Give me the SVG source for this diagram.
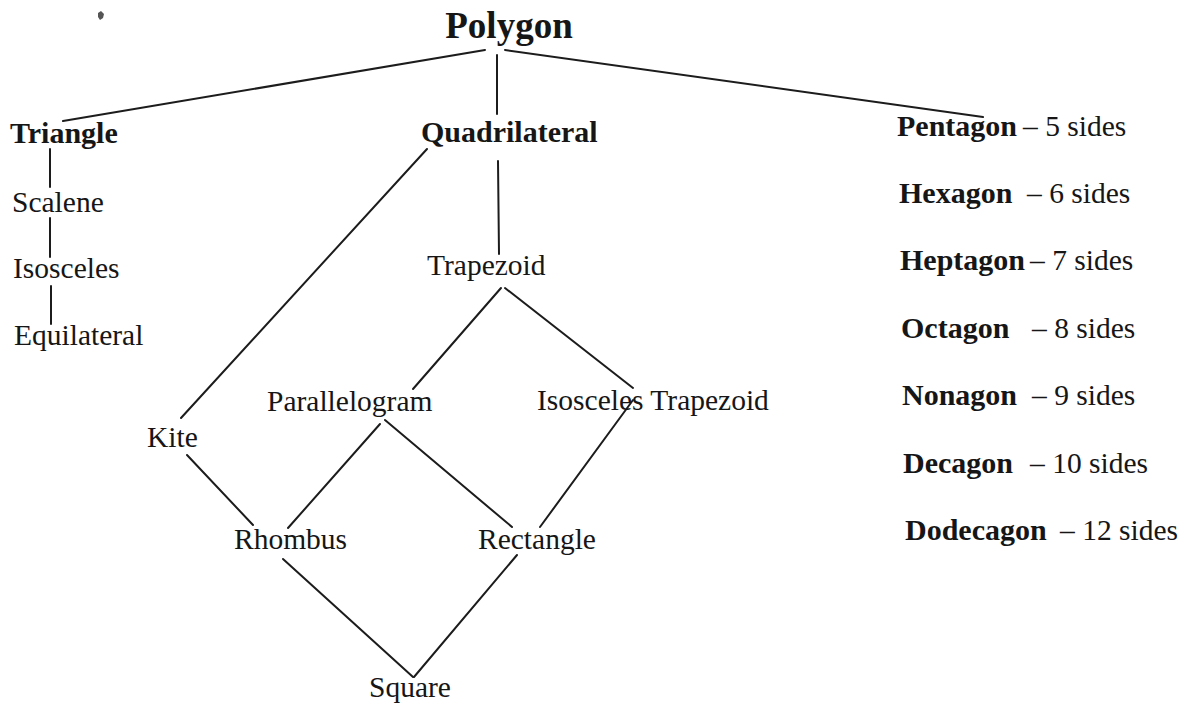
<svg xmlns="http://www.w3.org/2000/svg" width="1181" height="706" viewBox="0 0 1181 706">
<style>
text{font-family:"Liberation Serif","Times New Roman",serif;fill:#161616;font-size:29.5px}
.b{font-weight:bold;font-size:30px}
.t{font-size:37px;font-weight:bold}
#connectors line{stroke:#1c1c1c;stroke-width:2;stroke-linecap:round}
</style>
<rect width="1181" height="706" fill="#fff"/>
<path d="M98 13 l3 -2 l3 3 l-1 4 l-3 2 l-2 -3z" fill="#555"/>
<g id="connectors">
<line x1="485" y1="50" x2="63" y2="121"/>
<line x1="497" y1="55" x2="497" y2="114"/>
<line x1="505" y1="50" x2="983" y2="117"/>
<line x1="50" y1="149" x2="50" y2="187"/>
<line x1="50" y1="218" x2="50" y2="257"/>
<line x1="51" y1="286" x2="51" y2="324"/>
<line x1="427" y1="149" x2="181" y2="418"/>
<line x1="498" y1="161" x2="499" y2="254"/>
<line x1="501" y1="288" x2="413" y2="389"/>
<line x1="505" y1="288" x2="633" y2="388"/>
<line x1="187" y1="455" x2="253" y2="525"/>
<line x1="380" y1="424" x2="288" y2="528"/>
<line x1="385" y1="420" x2="512" y2="527"/>
<line x1="633" y1="400" x2="540" y2="527"/>
<line x1="283" y1="559" x2="413" y2="677"/>
<line x1="517" y1="555" x2="414" y2="677"/>
</g>
<g id="polygon"><text class="t" x="509" y="38" text-anchor="middle">Polygon</text></g>
<g id="triangle"><text class="b" x="10" y="143">Triangle</text></g>
<g id="scalene"><text x="12" y="212">Scalene</text></g>
<g id="isosceles"><text x="13" y="278">Isosceles</text></g>
<g id="equilateral"><text x="14" y="345">Equilateral</text></g>
<g id="quadrilateral"><text class="b" x="421" y="142">Quadrilateral</text></g>
<g id="trapezoid"><text x="427" y="275">Trapezoid</text></g>
<g id="parallelogram"><text x="267" y="411">Parallelogram</text></g>
<g id="isosceles-trapezoid"><text x="537" y="410">Isosceles Trapezoid</text></g>
<g id="kite"><text x="147" y="447">Kite</text></g>
<g id="rhombus"><text x="234" y="549">Rhombus</text></g>
<g id="rectangle"><text x="478" y="549">Rectangle</text></g>
<g id="square"><text x="369" y="697">Square</text></g>
<g id="pentagon"><text class="b" x="897" y="136">Pentagon</text><text x="1023" y="136">– 5 sides</text></g>
<g id="hexagon"><text class="b" x="899" y="203">Hexagon</text><text x="1027" y="203">– 6 sides</text></g>
<g id="heptagon"><text class="b" x="900" y="270">Heptagon</text><text x="1030" y="270">– 7 sides</text></g>
<g id="octagon"><text class="b" x="901" y="338">Octagon</text><text x="1032" y="338">– 8 sides</text></g>
<g id="nonagon"><text class="b" x="902" y="405">Nonagon</text><text x="1032" y="405">– 9 sides</text></g>
<g id="decagon"><text class="b" x="903" y="473">Decagon</text><text x="1030" y="473">– 10 sides</text></g>
<g id="dodecagon"><text class="b" x="905" y="540">Dodecagon</text><text x="1060" y="540">– 12 sides</text></g>
</svg>
